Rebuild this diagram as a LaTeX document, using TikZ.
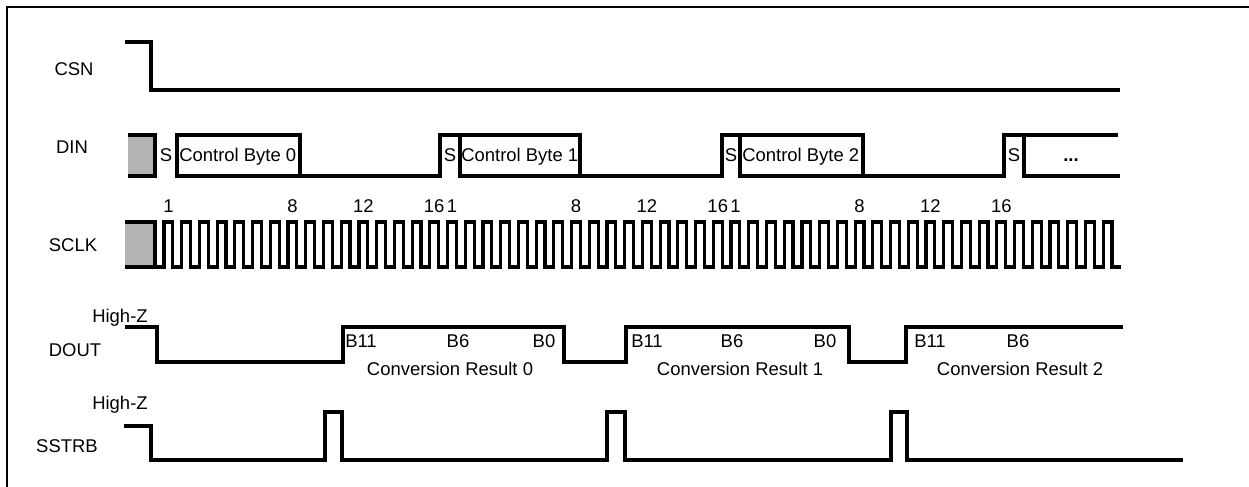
\documentclass[tikz,border=0pt]{standalone}
\usepackage{fontspec}
\setmainfont{Liberation Sans}
\usepackage{tikz}
\definecolor{padgray}{RGB}{179,179,179}
\tikzset{
  wave/.style={line width=1.8pt, line join=miter},
  sig/.style={inner sep=0pt, anchor=base, font=\fontsize{10.5}{12}\selectfont},
}

\begin{document}
\begin{tikzpicture}[x=0.02cm, y=-0.02cm]
\useasboundingbox (0,0) rectangle (1249,487);

% Frame
\draw[line width=1.3pt] (7,487) -- (7,7) -- (1249,7);

% Signal names
\node[sig] (csn) at (74,75) {CSN};
\node[sig] (din) at (72,153) {DIN};
\node[sig] (sclk) at (73,251) {SCLK};
\node[sig] (dout) at (75,356) {DOUT};
\node[sig] (sstrb) at (67,452) {SSTRB};
\node[sig] (hizd) at (120,322) {High-Z};
\node[sig] (hizs) at (120,409) {High-Z};

% CSN
\draw[wave] (125,42) -- (151,42) -- (151,90) -- (1120,90);

% DIN
\fill[padgray] (128,135) rectangle (155,176);
\draw[wave] (128,135) -- (155,135) -- (155,176);
\draw[wave] (128,176) -- (157,176);
\draw[wave] (177,135) rectangle (300,176);
\draw[wave] (177,176) -- (440,176) -- (440,135) -- (580,135) -- (580,176) -- (722,176)
  -- (722,135) -- (863,135) -- (863,176) -- (1004,176) -- (1004,135) -- (1118,135);
\draw[wave] (460,135) -- (460,176) -- (580,176);
\draw[wave] (740,135) -- (740,176) -- (863,176);
\draw[wave] (1024,135) -- (1024,176) -- (1120,176);
\node[sig] (s0) at (166,161) {S};
\node[sig] (s1) at (450,161) {S};
\node[sig] (s2) at (731,161) {S};
\node[sig] (s3) at (1014,161) {S};
\node[sig, anchor=base west] (cb0) at (179,161) {Control Byte 0};
\node[sig, anchor=base west] (cb1) at (461,161) {Control Byte 1};
\node[sig, anchor=base west] (cb2) at (742,161) {Control Byte 2};
\node[sig] (more) at (1071,161) {\textbf{...}};

% SCLK
\fill[padgray] (125,222) rectangle (155,267);
\draw[wave] (125,222) -- (155,222) -- (155,267);
\draw[wave] (125,267) -- (164,267)
  \foreach \k in {0,...,53} {
    -- ({164+\k*17.72},222) -- ({172.86+\k*17.72},222)
    -- ({172.86+\k*17.72},267) -- ({181.72+\k*17.72},267)
  };
\foreach \k/\t in {1/1,8/8,12/12,16/16,17/1,24/8,28/12,32/16,33/1,40/8,44/12,48/16}
  \node[sig] (clk\k) at ({168.43+(\k-1)*17.72},212) {\t};

% DOUT
\draw[wave] (125,327) -- (157,327) -- (157,362) -- (343,362) -- (343,327) -- (564,327)
  -- (564,362) -- (626,362) -- (626,327) -- (849,327) -- (849,362) -- (906,362)
  -- (906,327) -- (1123,327);
\node[sig] (b11a) at (361,347) {B11};
\node[sig] (b6a) at (458,347) {B6};
\node[sig] (b0a) at (544,347) {B0};
\node[sig] (b11b) at (647,347) {B11};
\node[sig] (b6b) at (732,347) {B6};
\node[sig] (b0b) at (825,347) {B0};
\node[sig] (b11c) at (930,347) {B11};
\node[sig] (b6c) at (1018,347) {B6};
\node[sig] (res0) at (450,375) {Conversion Result 0};
\node[sig] (res1) at (740,375) {Conversion Result 1};
\node[sig] (res2) at (1020,375) {Conversion Result 2};

% SSTRB
\draw[wave] (124,426) -- (151,426) -- (151,460) -- (325,460) -- (325,412) -- (342,412)
  -- (342,460) -- (607,460) -- (607,412) -- (625,412) -- (625,460) -- (891,460)
  -- (891,412) -- (907,412) -- (907,460) -- (1183,460);
\end{tikzpicture}
\end{document}
